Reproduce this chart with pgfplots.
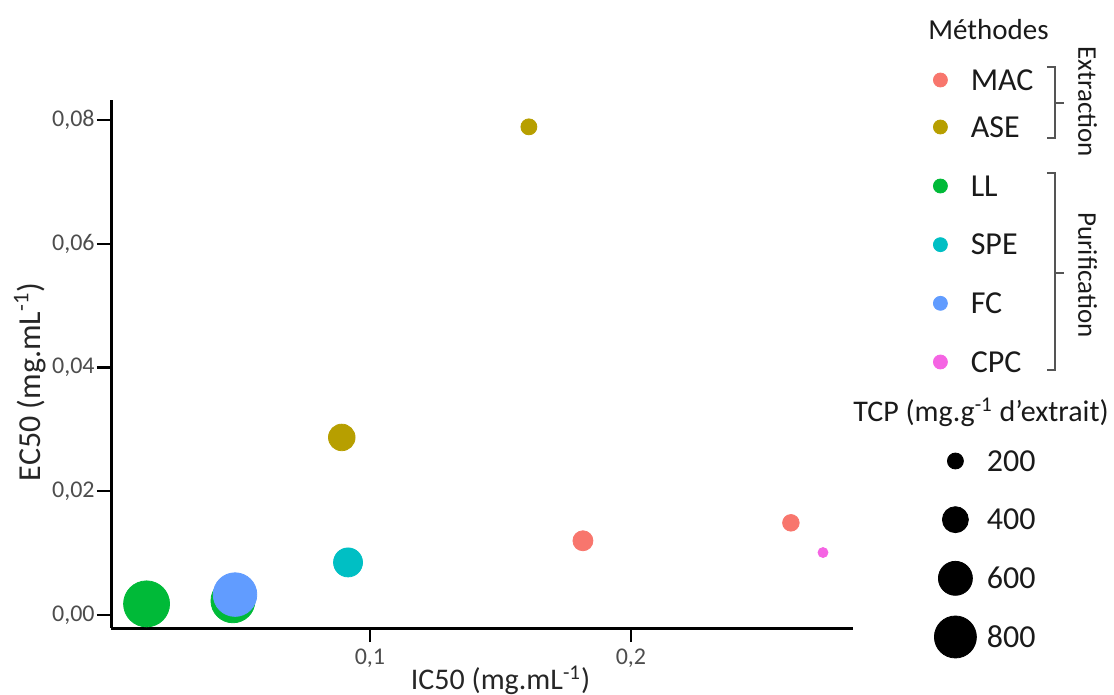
\documentclass[border=0pt]{standalone}
\usepackage{fontspec}
\setmainfont{Carlito}
\usepackage{pgfplots}
\usepackage{pgfplotstable}
\pgfplotsset{compat=1.18}
\definecolor{cMAC}{HTML}{F8766D}
\definecolor{cASE}{HTML}{B79F00}
\definecolor{cLL}{HTML}{00BA38}
\definecolor{cSPE}{HTML}{00BFC4}
\definecolor{cFC}{HTML}{619CFF}
\definecolor{cCPC}{HTML}{F564E3}
\definecolor{tickgray}{HTML}{4D4D4D}
\definecolor{labgray}{HTML}{262626}
\definecolor{txt}{HTML}{1A1A1A}
\definecolor{brgray}{HTML}{555555}

% x = IC50, y = EC50, tcp = TCP (mg/g), r = bubble radius (px)
\pgfplotstableread{
x y tcp r
0.1816 0.0120 280 10
0.2613 0.0149 210 8.3
}\tabMAC
\pgfplotstableread{
x y tcp r
0.0892 0.0287 400 13.3
0.1609 0.0789 220 8
}\tabASE
\pgfplotstableread{
x y tcp r
0.0144 0.0018 900 23
0.0475 0.0023 850 22
}\tabLL
\pgfplotstableread{
x y tcp r
0.0916 0.0085 450 14.5
}\tabSPE
\pgfplotstableread{
x y tcp r
0.0483 0.0033 830 21.8
}\tabFC
\pgfplotstableread{
x y tcp r
0.2736 0.0101 100 5
}\tabCPC

\pgfplotsset{
  bubble/.style={scatter, only marks, mark=*,
    scatter/use mapped color={draw=#1, fill=#1},
    visualization depends on={\thisrow{r} \as \rad},
    scatter/@pre marker code/.append style={/tikz/mark size=0.5bp*\rad}},
  legax/.style={hide axis, scale only axis, width=10bp, height=10bp,
    xmin=0, xmax=1, ymin=0, ymax=1, anchor=south west},
}

\begin{document}
\begin{tikzpicture}
\path[use as bounding box] (0,0) rectangle (557bp,-347.5bp);

\begin{axis}[
  at={(55.5bp,-314bp)}, anchor=south west,
  scale only axis, width=371bp, height=264bp,
  xmin=0.00077, xmax=0.2851, ymin=-0.0021, ymax=0.08324,
  axis x line=bottom, axis y line=left,
  axis line style={-, line width=1.5bp, black},
  every tick/.style={black, line width=1.2bp},
  tick align=outside, major tick length=7bp,
  scaled ticks=false,
  xtick={0.1,0.2}, xticklabels={{0,1},{0,2}},
  ytick={0,0.02,0.04,0.06,0.08},
  yticklabels={{0,00},{0,02},{0,04},{0,06},{0,08}},
  tick label style={font=\fontsize{12bp}{14bp}\selectfont, text=tickgray},
  yticklabel style={inner sep=1bp},
  xlabel={IC50 (mg.mL\textsuperscript{-1})},
  ylabel={EC50 (mg.mL\textsuperscript{-1})},
  xlabel style={at={(axis description cs:0.525,-0.099)}, anchor=center,
    font=\fontsize{15bp}{17bp}\selectfont, text=labgray},
  ylabel style={at={(axis description cs:-0.109,0.466)}, anchor=center,
    font=\fontsize{16bp}{18bp}\selectfont, text=labgray},
  clip=false,
]
\addplot[bubble=cMAC] table[x=x,y=y] {\tabMAC};
\addplot[bubble=cASE] table[x=x,y=y] {\tabASE};
\addplot[bubble=cLL] table[x=x,y=y] {\tabLL};
\addplot[bubble=cSPE] table[x=x,y=y] {\tabSPE};
\addplot[bubble=cFC] table[x=x,y=y] {\tabFC};
\addplot[bubble=cCPC] table[x=x,y=y] {\tabCPC};
\end{axis}

% colour legend: extraction group
\begin{axis}[legax, at={(466.5bp,-34.85bp)},
  legend style={at={(0,0)}, anchor=north west, draw=none, fill=none,
    inner sep=0pt, outer sep=0pt, row sep=13.2bp, column sep=11.5bp,
    font=\fontsize{16bp}{18bp}\selectfont, text=txt,
    nodes={inner sep=0pt, text height=10.3bp, text depth=0pt, anchor=west}},
  legend cell align=left]
\addlegendimage{legend image code/.code={\fill[cMAC] (0bp,0bp) circle[radius=3.5bp];}}
\addlegendentry{MAC}
\addlegendimage{legend image code/.code={\fill[cASE] (0bp,0bp) circle[radius=3.5bp];}}
\addlegendentry{ASE}
\end{axis}

% colour legend: purification group
\begin{axis}[legax, at={(466.5bp,-87.85bp)},
  legend style={at={(0,0)}, anchor=north west, draw=none, fill=none,
    inner sep=0pt, outer sep=0pt, row sep=19.03bp, column sep=11.5bp,
    font=\fontsize{16bp}{18bp}\selectfont, text=txt,
    nodes={inner sep=0pt, text height=10.3bp, text depth=0pt, anchor=west}},
  legend cell align=left]
\addlegendimage{legend image code/.code={\fill[cLL] (0bp,0bp) circle[radius=3.5bp];}}
\addlegendentry{LL}
\addlegendimage{legend image code/.code={\fill[cSPE] (0bp,0bp) circle[radius=3.5bp];}}
\addlegendentry{SPE}
\addlegendimage{legend image code/.code={\fill[cFC] (0bp,0bp) circle[radius=3.5bp];}}
\addlegendentry{FC}
\addlegendimage{legend image code/.code={\fill[cCPC] (0bp,0bp) circle[radius=3.5bp];}}
\addlegendentry{CPC}
\end{axis}

% size legend
\begin{axis}[legax, at={(467bp,-219.5bp)},
  legend style={at={(0,0)}, anchor=north west, draw=none, fill=none,
    inner sep=0pt, outer sep=0pt, row sep=7.33bp, column sep=5bp,
    font=\fontsize{16bp}{18bp}\selectfont, text=txt,
    nodes={inner sep=0pt, text height=10.1bp, text depth=0pt, minimum height=22bp, anchor=west}},
  legend cell align=left]
\addlegendimage{legend image code/.code={\fill[black] (0bp,0bp) circle[radius=4bp];}}
\addlegendentry{200}
\addlegendimage{legend image code/.code={\fill[black] (0bp,0bp) circle[radius=6.5bp];}}
\addlegendentry{400}
\addlegendimage{legend image code/.code={\fill[black] (0bp,0bp) circle[radius=8.5bp];}}
\addlegendentry{600}
\addlegendimage{legend image code/.code={\fill[black] (0bp,0bp) circle[radius=10.5bp];}}
\addlegendentry{800}
\end{axis}

\begin{scope}[x=0.5bp, y=-0.5bp]
\node[anchor=base west, font=\fontsize{14.5bp}{16bp}\selectfont, text=txt, inner sep=0pt] at (928,39.5) {Méthodes};
\node[anchor=base, font=\fontsize{15bp}{17bp}\selectfont, text=txt, inner sep=0pt] at (981,422) {TCP (mg.g\textsuperscript{-1} d’extrait)};
\draw[brgray, line width=0.75bp] (1047,67) -- (1055,67) -- (1055,138) -- (1047,138);
\draw[brgray, line width=0.75bp] (1055,103) -- (1064,103);
\draw[brgray, line width=0.75bp] (1047,173) -- (1055,173) -- (1055,370) -- (1047,370);
\draw[brgray, line width=0.75bp] (1055,273) -- (1064,273);
\node[rotate=-90, font=\fontsize{13.5bp}{15bp}\selectfont, text=txt, inner sep=0pt] at (1087.5,101.7) {Extraction};
\node[rotate=-90, font=\fontsize{13.5bp}{15bp}\selectfont, text=txt, inner sep=0pt] at (1087.5,275) {Purification};
\end{scope}
\end{tikzpicture}
\end{document}
